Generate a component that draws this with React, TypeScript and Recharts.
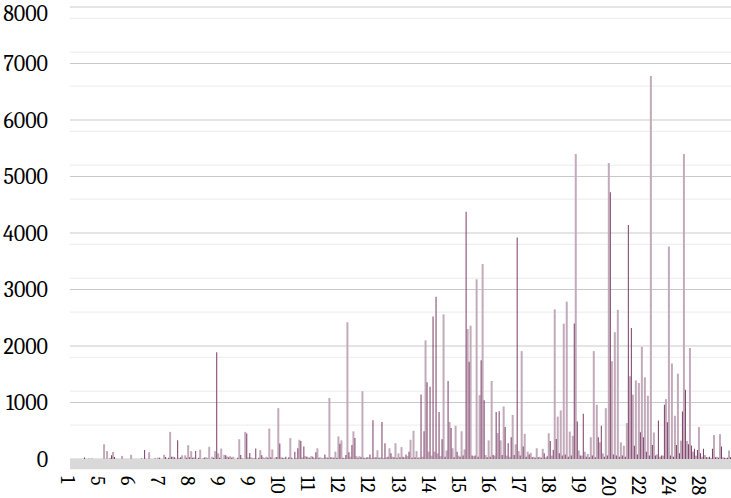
import { BarChart, Bar, XAxis, YAxis, CartesianGrid, ReferenceArea } from "recharts";

const dayLabels = ["1", "5", "6", "7", "8", "9", "9", "10", "11", "12", "12", "13", "14", "15", "16", "17", "18", "19", "20", "22", "24", "28"];

const lightValues = [
  0, 0, 0, 0, 0, 0, 10, 10, 0, 0,
  0, 260, 140, 20, 125, 0, 0, 55, 0, 0,
  75, 0, 0, 0, 0, 0, 120, 0, 20, 25,
  0, 75, 0, 480, 40, 0, 20, 65, 65, 245,
  140, 30, 0, 165, 20, 30, 215, 40, 140, 100,
  185, 75, 45, 50, 40, 0, 350, 20, 480, 30,
  30, 20, 0, 155, 30, 40, 540, 170, 30, 900,
  30, 20, 0, 370, 0, 20, 340, 30, 50, 30,
  50, 20, 190, 30, 20, 30, 1080, 30, 130, 400,
  330, 20, 2420, 40, 490, 50, 50, 1200, 20, 30,
  20, 30, 155, 30, 20, 30, 190, 40, 280, 100,
  210, 30, 50, 340, 500, 140, 30, 40, 2100, 130,
  60, 130, 100, 50, 2560, 150, 655, 190, 590, 60,
  490, 170, 2300, 2360, 50, 3180, 1130, 3450, 70, 330,
  1380, 60, 460, 330, 930, 60, 40, 780, 260, 140,
  1910, 445, 130, 110, 40, 190, 40, 180, 30, 455,
  60, 2650, 750, 860, 2395, 2785, 485, 410, 5400, 150,
  60, 130, 90, 385, 1910, 960, 295, 100, 900, 5240,
  1730, 2245, 2640, 295, 235, 635, 1465, 1140, 1390, 1345,
  1985, 1445, 1120, 6780, 470, 80, 40, 60, 1060, 3760,
  1690, 765, 1510, 325, 5400, 320, 1965, 130, 60, 565,
  40, 70, 30, 20, 425, 40, 440, 30, 20, 150,
];

const darkValues = [
  0, 0, 0, 0, 25, 0, 0, 0, 0, 0,
  0, 0, 0, 65, 35, 0, 0, 0, 0, 0,
  0, 0, 0, 10, 160, 0, 0, 0, 0, 20,
  0, 35, 20, 40, 30, 330, 30, 0, 20, 30,
  20, 140, 20, 0, 25, 10, 0, 20, 1890, 20,
  0, 65, 30, 20, 0, 20, 70, 0, 450, 107,
  10, 185, 20, 65, 10, 20, 30, 0, 35, 275,
  20, 40, 30, 20, 130, 190, 320, 220, 40, 20,
  40, 120, 20, 10, 80, 20, 30, 20, 20, 270,
  20, 70, 120, 250, 370, 20, 30, 20, 30, 80,
  685, 30, 20, 655, 280, 40, 100, 30, 20, 30,
  40, 80, 130, 20, 30, 20, 1140, 490, 1360, 1280,
  2520, 2870, 830, 350, 40, 1380, 550, 30, 130, 40,
  60, 4375, 1720, 60, 60, 40, 1750, 1040, 30, 40,
  70, 830, 845, 70, 565, 280, 385, 70, 3920, 60,
  220, 40, 80, 30, 20, 30, 20, 100, 50, 320,
  160, 355, 100, 60, 80, 40, 60, 2400, 665, 60,
  800, 40, 30, 60, 30, 385, 590, 40, 60, 4720,
  80, 60, 40, 60, 40, 4140, 2320, 235, 80, 475,
  385, 130, 60, 250, 60, 680, 60, 960, 650, 60,
  40, 250, 100, 840, 1225, 260, 240, 180, 160, 100,
  180, 30, 40, 180, 30, 20, 220, 20, 20, 30,
];

const yTicks = [0, 1000, 2000, 3000, 4000, 5000, 6000, 7000, 8000];
const minorTicks = [200, 400, 600, 800, 1200, 1400, 1600, 1800, 2200, 2400, 2600, 2800, 3200, 3400, 3600, 3800, 4200, 4400, 4600, 4800, 5200, 5400, 5600, 5800, 6200, 6400, 6600, 6800, 7200, 7400, 7600, 7800];

const data = lightValues.map((v, i) => ({ idx: i, light: v, dark: darkValues[i] }));

const FONT = "Cambria, 'Liberation Serif', serif";

const DayTick = (props: any) => {
  const { x, y, payload } = props;
  const label = dayLabels[Math.round(payload.value / 10)];
  const tx = x - 4;
  const ty = y + 17;
  return (
    <text
      x={tx}
      y={ty}
      transform={`rotate(90 ${tx} ${ty})`}
      textAnchor="start"
      dominantBaseline="central"
      fontFamily={FONT}
      fontSize={20}
      fill="#000"
    >
      {label}
    </text>
  );
};

export default function App() {
  return (
    <div style={{ position: "absolute", left: 0, top: 0, width: 731, height: 498, background: "#fff" }}>
      <BarChart
        width={731}
        height={498}
        data={data}
        margin={{ top: 7, right: 0, bottom: 0, left: 0 }}
        barGap={0}
        barCategoryGap={0}
      >
        <CartesianGrid vertical={false} horizontalValues={minorTicks} stroke="#ebebeb" />
        <CartesianGrid vertical={false} stroke="#c9c9c9" />
        <ReferenceArea y1={-180} y2={0} ifOverflow="visible" fill="#d9d9d9" fillOpacity={1} stroke="none" />
        <XAxis
          dataKey="idx"
          type="category"
          height={39}
          interval={9}
          axisLine={false}
          tickLine={false}
          tickSize={0}
          tickMargin={0}
          tick={<DayTick />}
        />
        <YAxis
          width={70}
          domain={[0, 8000]}
          ticks={yTicks}
          axisLine={false}
          tickLine={false}
          tickSize={0}
          tickMargin={22}
          tick={{ fontFamily: FONT, fontSize: 22, fill: "#000" }}
        />
        <Bar dataKey="light" fill="#c2aaba" barSize={2} isAnimationActive={false} />
        <Bar dataKey="dark" fill="#7b3b66" barSize={1} isAnimationActive={false} />
      </BarChart>
    </div>
  );
}
